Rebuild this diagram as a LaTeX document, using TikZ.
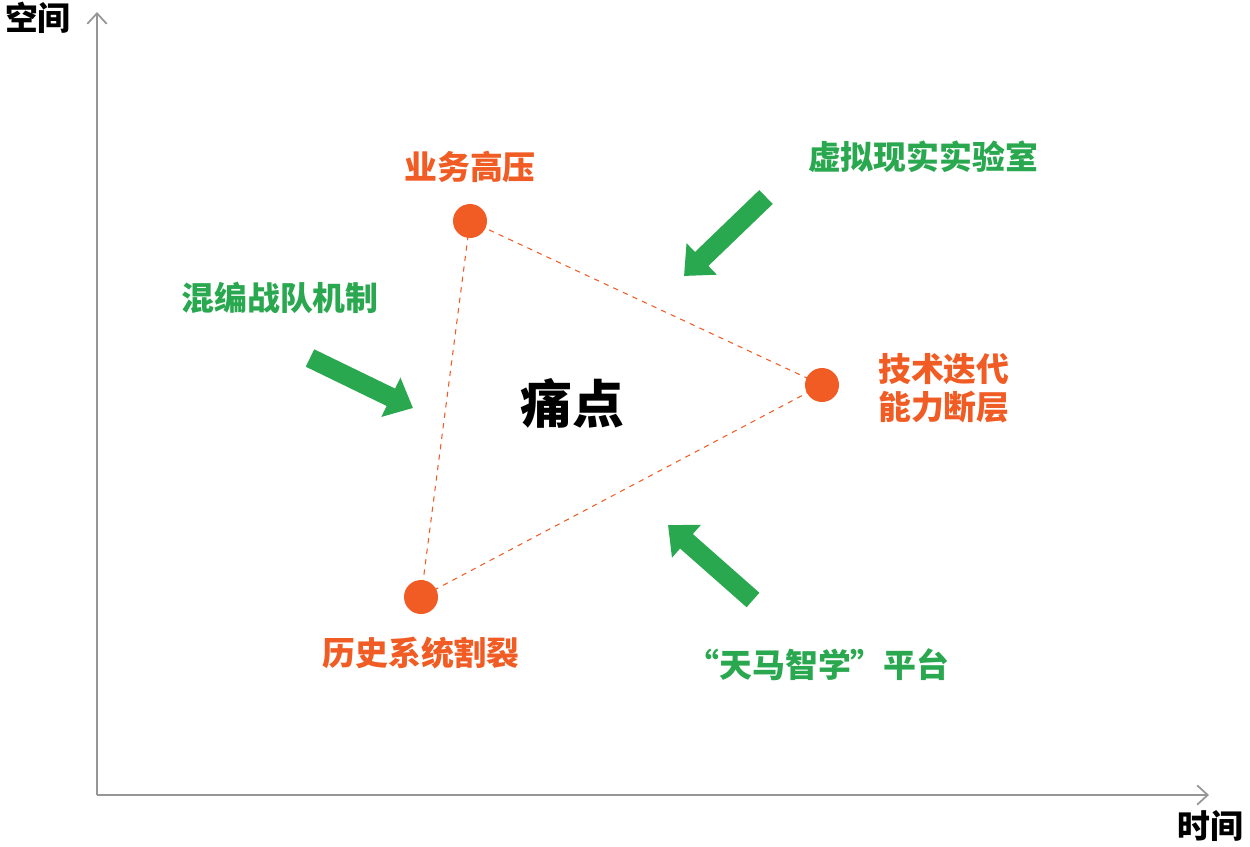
\documentclass[tikz,border=0pt]{standalone}
\usepackage{fontspec}
\setmainfont{Noto Sans CJK SC}
\usetikzlibrary{arrows.meta}

\definecolor{myorange}{RGB}{240,92,36}
\definecolor{mygreen}{RGB}{42,168,80}
\definecolor{mygray}{RGB}{150,150,150}

\begin{document}
\begin{tikzpicture}[x=0.02cm,y=-0.02cm,
  axis/.style={mygray,line width=1pt,-{Straight Barb[length=6pt,width=11pt]}},
  pain/.style={circle,fill=myorange,inner sep=0pt,minimum size=0.68cm},
  painlabel/.style={text=myorange,font=\fontsize{18.7}{21.5}\selectfont\bfseries,align=left},
  fixlabel/.style={text=mygreen,font=\fontsize{18.7}{21.5}\selectfont\bfseries},
  fixarrow/.style={mygreen,line width=11pt,-{Triangle[length=14pt,width=24pt]}}]
 \useasboundingbox (0,0) rectangle (1250,846);

 % axes
 \coordinate (O)  at (97,795);
 \coordinate (Yt) at (97,12);
 \coordinate (Xt) at (1209,795);
 \draw[axis] (O) -- (Yt);
 \draw[axis] (O) -- (Xt);
 \node[font=\fontsize{18.7}{21.5}\selectfont\bfseries] (space) at (38,18)   {空间};
 \node[font=\fontsize{18.7}{21.5}\selectfont\bfseries] (time)  at (1210,826) {时间};

 % pain points
 \node[pain] (A) at (470,221) {};
 \node[pain] (B) at (822,385) {};
 \node[pain] (C) at (421,597) {};
 \draw[myorange,dashed,line width=0.6pt] (A.center) -- (B.center) -- (C.center) -- cycle;
 \node[painlabel] (Alab) at (470,167) {业务高压};
 \node[painlabel,anchor=west] (Blab) at (872,388) {技术迭代\\能力断层};
 \node[painlabel] (Clab) at (421,653) {历史系统割裂};
 \node[font=\fontsize{29.5}{34}\selectfont\bfseries] (core) at (572,403) {痛点};

 % measures
 \node[fixlabel] (team) at (280,298) {混编战队机制};
 \node[fixlabel] (lab)  at (923,157) {虚拟现实实验室};
 \node[fixlabel] (plat) at (818,665) {“天马智学”平台};
 \coordinate (t1) at (310,358);  \coordinate (h1) at (413,408);
 \coordinate (t2) at (766,197);  \coordinate (h2) at (684,276);
 \coordinate (t3) at (753,600);  \coordinate (h3) at (668,525);
 \draw[fixarrow] (t1) -- (h1);
 \draw[fixarrow] (t2) -- (h2);
 \draw[fixarrow] (t3) -- (h3);

\end{tikzpicture}
\end{document}
